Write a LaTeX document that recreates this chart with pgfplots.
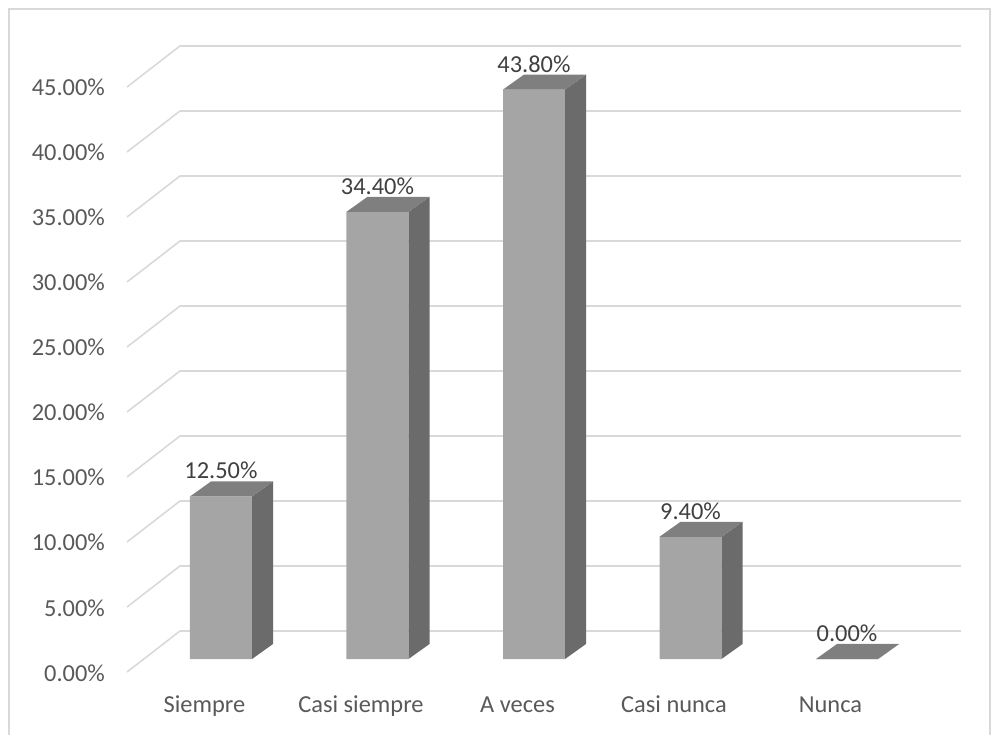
\documentclass[border=0pt]{standalone}
\usepackage{pgfplots}
\pgfplotsset{compat=1.18}
\usepackage{pgfplotstable}
\usepackage{fontspec}
\setmainfont{Carlito}
\definecolor{gridc}{HTML}{D9D9D9}
\definecolor{frontc}{HTML}{A5A5A5}
\definecolor{sidec}{HTML}{6B6B6B}
\definecolor{topc}{HTML}{7F7F7F}
\definecolor{lblc}{HTML}{595959}
\definecolor{datac}{HTML}{404040}

\pgfplotstableread{
x v
0 12.5
1 34.4
2 43.8
3 9.4
4 0.0
}\datatable

\begin{document}
\begin{tikzpicture}
\path[use as bounding box] (-221pt,-75pt) rectangle (770pt,659pt);
\draw[gridc, line width=1.5pt] (-212pt,-90pt) -- (-212pt,650pt) -- (769pt,650pt) -- (769pt,-90pt);
\begin{axis}[
  at={(0pt,0pt)}, anchor=origin,
  x=156.5pt, y=13pt,
  xmin=-0.7, xmax=4.85, ymin=-1.5, ymax=49,
  clip=false,
  axis line style={draw=none},
  major tick length=0pt,
  xtick={0,...,4},
  xticklabels={Siempre, Casi siempre, A veces, Casi nunca, Nunca},
  ytick={0,5,...,45},
  yticklabel={\pgfmathprintnumber[fixed,fixed zerofill,precision=2]{\tick}\%},
  /pgf/number format/assume math mode=true,
  tick label style={font=\fontsize{24.4}{28}\selectfont, text=lblc, inner sep=0pt},
  xticklabel style={anchor=base, xshift=-16.5pt, yshift=-33.5pt},
  yticklabel style={anchor=base east, xshift=-6.4pt, yshift=-22pt},
]
% 3D gridlines (floor diagonal + back wall)
\pgfplotsinvokeforeach{0,5,...,45}{
  \pgfmathsetmacro\ya{#1-1.0}
  \pgfmathsetmacro\yb{#1+2.154}
  \edef\tmp{\noexpand\draw[gridc, line width=1.6pt] (axis cs:-0.6006,\ya) -- (axis cs:-0.262,\yb) -- (axis cs:4.728,\yb);}
  \tmp
}
% front faces
\addplot[ybar, bar width=62pt, fill=frontc, draw=none,
  nodes near coords={\pgfmathprintnumber[fixed,fixed zerofill,precision=2]{\pgfplotspointmeta}\%},
  every node near coord/.append style={font=\fontsize{24.4}{28}\selectfont, text=datac, anchor=base, inner sep=0pt, yshift=17.5pt}]
  table[x=x,y=v]{\datatable};
% side and top faces from the same values
\pgfplotsinvokeforeach{0,...,4}{
  \pgfplotstablegetelem{#1}{v}\of\datatable
  \let\val\pgfplotsretval
  \pgfmathsetmacro\xl{#1-0.1981}
  \pgfmathsetmacro\xr{#1+0.1981}
  \pgfmathsetmacro\xrb{#1+0.1981+0.1342}
  \pgfmathsetmacro\xlb{#1-0.1981+0.1342}
  \pgfmathsetmacro\vb{\val+1.154}
  \edef\tmp{\noexpand\fill[sidec] (axis cs:\xr,0) -- (axis cs:\xrb,1.154) -- (axis cs:\xrb,\vb) -- (axis cs:\xr,\val) -- cycle;
    \noexpand\fill[topc] (axis cs:\xl,\val) -- (axis cs:\xr,\val) -- (axis cs:\xrb,\vb) -- (axis cs:\xlb,\vb) -- cycle;}
  \tmp
}
\end{axis}
\end{tikzpicture}
\end{document}
